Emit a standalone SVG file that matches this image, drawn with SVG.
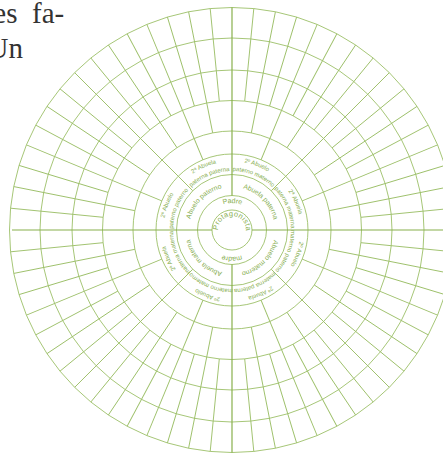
<svg xmlns="http://www.w3.org/2000/svg" xmlns:xlink="http://www.w3.org/1999/xlink" width="443" height="455" viewBox="0 0 443 455">
<style>
.c{fill:none;stroke:#9cbf68;stroke-width:0.9}
.r{stroke:#9cbf68;stroke-width:0.9}
.ax{stroke:#88b04c;stroke-width:1.2}
.t{font-family:"Liberation Sans",Arial,sans-serif;fill:#86ad4e;text-anchor:middle}
.t0{font-size:7.4px}
.t1{font-size:7px}
.t2{font-size:6.8px}
.t3{font-size:6px}
.book{font-family:"Liberation Serif","Times New Roman",serif;font-size:29px;fill:#333}
</style>
<defs>
<path id="p14" d="M246 230A14 14 0 1 1 218 230A14 14 0 1 1 246 230"/>
<path id="p27" d="M259 230A27 27 0 1 1 205 230A27 27 0 1 1 259 230"/>
<path id="p43" d="M275 230A43 43 0 1 1 189 230A43 43 0 1 1 275 230"/>
<path id="p59" d="M291 230A59 59 0 1 1 173 230A59 59 0 1 1 291 230"/>
<path id="p68" d="M300.5 230A68.5 68.5 0 1 1 163.5 230A68.5 68.5 0 1 1 300.5 230"/>
</defs>
<g id="book-text">
<text class="book" x="-6.7" y="22.5">es</text>
<text class="book" x="32" y="22.5">fa-</text>
<text class="book" x="-12.5" y="58">Un</text>
</g>
<g id="rings">
<circle class="c" cx="232" cy="230" r="20"/>
<circle class="c" cx="232" cy="230" r="34.5"/>
<circle class="c" cx="232" cy="230" r="55.5"/>
<circle class="c" cx="232" cy="230" r="76"/>
<circle class="c" cx="232" cy="230" r="99"/>
<circle class="c" cx="232" cy="230" r="129.5"/>
<circle class="c" cx="232" cy="230" r="160"/>
<circle class="c" cx="232" cy="230" r="192"/>
<circle class="c" cx="232" cy="230" r="222.5"/>
</g>
<g id="connectors">
<line class="ax" x1="12" y1="230" x2="212" y2="230"/>
<line class="ax" x1="252" y1="230" x2="454.5" y2="230"/>
<line class="ax" x1="232" y1="7.5" x2="232" y2="195.5"/>
<line class="ax" x1="232" y1="264.5" x2="232" y2="452.5"/>
<g id="gen3">
<line class="r" x1="287.5" y1="230" x2="454.5" y2="230" transform="rotate(45 232 230)"/>
<line class="r" x1="287.5" y1="230" x2="454.5" y2="230" transform="rotate(135 232 230)"/>
<line class="r" x1="287.5" y1="230" x2="454.5" y2="230" transform="rotate(225 232 230)"/>
<line class="r" x1="287.5" y1="230" x2="454.5" y2="230" transform="rotate(315 232 230)"/>
</g>
<g id="gen4">
<line class="r" x1="308" y1="230" x2="454.5" y2="230" transform="rotate(22.5 232 230)"/>
<line class="r" x1="308" y1="230" x2="454.5" y2="230" transform="rotate(67.5 232 230)"/>
<line class="r" x1="308" y1="230" x2="454.5" y2="230" transform="rotate(112.5 232 230)"/>
<line class="r" x1="308" y1="230" x2="454.5" y2="230" transform="rotate(157.5 232 230)"/>
<line class="r" x1="308" y1="230" x2="454.5" y2="230" transform="rotate(202.5 232 230)"/>
<line class="r" x1="308" y1="230" x2="454.5" y2="230" transform="rotate(247.5 232 230)"/>
<line class="r" x1="308" y1="230" x2="454.5" y2="230" transform="rotate(292.5 232 230)"/>
<line class="r" x1="308" y1="230" x2="454.5" y2="230" transform="rotate(337.5 232 230)"/>
</g>
<g id="gen5">
<line class="r" x1="331" y1="230" x2="454.5" y2="230" transform="rotate(11.25 232 230)"/>
<line class="r" x1="331" y1="230" x2="454.5" y2="230" transform="rotate(33.75 232 230)"/>
<line class="r" x1="331" y1="230" x2="454.5" y2="230" transform="rotate(56.25 232 230)"/>
<line class="r" x1="331" y1="230" x2="454.5" y2="230" transform="rotate(78.75 232 230)"/>
<line class="r" x1="331" y1="230" x2="454.5" y2="230" transform="rotate(101.25 232 230)"/>
<line class="r" x1="331" y1="230" x2="454.5" y2="230" transform="rotate(123.75 232 230)"/>
<line class="r" x1="331" y1="230" x2="454.5" y2="230" transform="rotate(146.25 232 230)"/>
<line class="r" x1="331" y1="230" x2="454.5" y2="230" transform="rotate(168.75 232 230)"/>
<line class="r" x1="331" y1="230" x2="454.5" y2="230" transform="rotate(191.25 232 230)"/>
<line class="r" x1="331" y1="230" x2="454.5" y2="230" transform="rotate(213.75 232 230)"/>
<line class="r" x1="331" y1="230" x2="454.5" y2="230" transform="rotate(236.25 232 230)"/>
<line class="r" x1="331" y1="230" x2="454.5" y2="230" transform="rotate(258.75 232 230)"/>
<line class="r" x1="331" y1="230" x2="454.5" y2="230" transform="rotate(281.25 232 230)"/>
<line class="r" x1="331" y1="230" x2="454.5" y2="230" transform="rotate(303.75 232 230)"/>
<line class="r" x1="331" y1="230" x2="454.5" y2="230" transform="rotate(326.25 232 230)"/>
<line class="r" x1="331" y1="230" x2="454.5" y2="230" transform="rotate(348.75 232 230)"/>
</g>
<g id="gen6">
<line class="r" x1="361.5" y1="230" x2="454.5" y2="230" transform="rotate(5.625 232 230)"/>
<line class="r" x1="361.5" y1="230" x2="454.5" y2="230" transform="rotate(16.875 232 230)"/>
<line class="r" x1="361.5" y1="230" x2="454.5" y2="230" transform="rotate(28.125 232 230)"/>
<line class="r" x1="361.5" y1="230" x2="454.5" y2="230" transform="rotate(39.375 232 230)"/>
<line class="r" x1="361.5" y1="230" x2="454.5" y2="230" transform="rotate(50.625 232 230)"/>
<line class="r" x1="361.5" y1="230" x2="454.5" y2="230" transform="rotate(61.875 232 230)"/>
<line class="r" x1="361.5" y1="230" x2="454.5" y2="230" transform="rotate(73.125 232 230)"/>
<line class="r" x1="361.5" y1="230" x2="454.5" y2="230" transform="rotate(84.375 232 230)"/>
<line class="r" x1="361.5" y1="230" x2="454.5" y2="230" transform="rotate(95.625 232 230)"/>
<line class="r" x1="361.5" y1="230" x2="454.5" y2="230" transform="rotate(106.875 232 230)"/>
<line class="r" x1="361.5" y1="230" x2="454.5" y2="230" transform="rotate(118.125 232 230)"/>
<line class="r" x1="361.5" y1="230" x2="454.5" y2="230" transform="rotate(129.375 232 230)"/>
<line class="r" x1="361.5" y1="230" x2="454.5" y2="230" transform="rotate(140.625 232 230)"/>
<line class="r" x1="361.5" y1="230" x2="454.5" y2="230" transform="rotate(151.875 232 230)"/>
<line class="r" x1="361.5" y1="230" x2="454.5" y2="230" transform="rotate(163.125 232 230)"/>
<line class="r" x1="361.5" y1="230" x2="454.5" y2="230" transform="rotate(174.375 232 230)"/>
<line class="r" x1="361.5" y1="230" x2="454.5" y2="230" transform="rotate(185.625 232 230)"/>
<line class="r" x1="361.5" y1="230" x2="454.5" y2="230" transform="rotate(196.875 232 230)"/>
<line class="r" x1="361.5" y1="230" x2="454.5" y2="230" transform="rotate(208.125 232 230)"/>
<line class="r" x1="361.5" y1="230" x2="454.5" y2="230" transform="rotate(219.375 232 230)"/>
<line class="r" x1="361.5" y1="230" x2="454.5" y2="230" transform="rotate(230.625 232 230)"/>
<line class="r" x1="361.5" y1="230" x2="454.5" y2="230" transform="rotate(241.875 232 230)"/>
<line class="r" x1="361.5" y1="230" x2="454.5" y2="230" transform="rotate(253.125 232 230)"/>
<line class="r" x1="361.5" y1="230" x2="454.5" y2="230" transform="rotate(264.375 232 230)"/>
<line class="r" x1="361.5" y1="230" x2="454.5" y2="230" transform="rotate(275.625 232 230)"/>
<line class="r" x1="361.5" y1="230" x2="454.5" y2="230" transform="rotate(286.875 232 230)"/>
<line class="r" x1="361.5" y1="230" x2="454.5" y2="230" transform="rotate(298.125 232 230)"/>
<line class="r" x1="361.5" y1="230" x2="454.5" y2="230" transform="rotate(309.375 232 230)"/>
<line class="r" x1="361.5" y1="230" x2="454.5" y2="230" transform="rotate(320.625 232 230)"/>
<line class="r" x1="361.5" y1="230" x2="454.5" y2="230" transform="rotate(331.875 232 230)"/>
<line class="r" x1="361.5" y1="230" x2="454.5" y2="230" transform="rotate(343.125 232 230)"/>
<line class="r" x1="361.5" y1="230" x2="454.5" y2="230" transform="rotate(354.375 232 230)"/>
</g>
</g>
<g id="protagonista"><text class="t t0" letter-spacing="0.3"><textPath xlink:href="#p14" startOffset="66">Protagonista</textPath></text></g>
<g id="padre"><text class="t t1"><textPath xlink:href="#p27" startOffset="127.2">Padre</textPath></text></g>
<g id="madre"><text class="t t1"><textPath xlink:href="#p27" startOffset="42.4">madre</textPath></text></g>
<g id="abuelo-paterno"><text class="t t2"><textPath xlink:href="#p43" startOffset="168.9">Abuelo paterno</textPath></text></g>
<g id="abuela-paterna"><text class="t t2"><textPath xlink:href="#p43" startOffset="236.4">Abuela paterna</textPath></text></g>
<g id="abuelo-materno"><text class="t t2"><textPath xlink:href="#p43" startOffset="33.8">Abuelo materno</textPath></text></g>
<g id="abuela-materna"><text class="t t2"><textPath xlink:href="#p43" startOffset="101.3">Abuela materna</textPath></text></g>
<g id="bis-pp-o"><text class="t t3"><textPath xlink:href="#p68" startOffset="239.7">2º Abuelo</textPath></text><text class="t t3"><textPath xlink:href="#p59" startOffset="207.5">paterno paterno</textPath></text></g>
<g id="bis-pp-a"><text class="t t3"><textPath xlink:href="#p68" startOffset="293.5">2ª Abuela</textPath></text><text class="t t3"><textPath xlink:href="#p59" startOffset="253.9">paterna paterna</textPath></text></g>
<g id="bis-pm-o"><text class="t t3"><textPath xlink:href="#p68" startOffset="347.3">2º Abuelo</textPath></text><text class="t t3"><textPath xlink:href="#p59" startOffset="300.2">paterno materno</textPath></text></g>
<g id="bis-pm-a"><text class="t t3"><textPath xlink:href="#p68" startOffset="401.1">2ª Abuela</textPath></text><text class="t t3"><textPath xlink:href="#p59" startOffset="346.5">paterna materna</textPath></text></g>
<g id="bis-mp-o"><text class="t t3"><textPath xlink:href="#p68" startOffset="24.5">2º Abuelo</textPath></text><text class="t t3"><textPath xlink:href="#p59" startOffset="22.2">materno paterno</textPath></text></g>
<g id="bis-mp-a"><text class="t t3"><textPath xlink:href="#p68" startOffset="78.3">2ª Abuela</textPath></text><text class="t t3"><textPath xlink:href="#p59" startOffset="68.5">materna paterna</textPath></text></g>
<g id="bis-mm-o"><text class="t t3"><textPath xlink:href="#p68" startOffset="132.1">2º Abuelo</textPath></text><text class="t t3"><textPath xlink:href="#p59" startOffset="114.8">materno materno</textPath></text></g>
<g id="bis-mm-a"><text class="t t3"><textPath xlink:href="#p68" startOffset="185.9">2ª Abuela</textPath></text><text class="t t3"><textPath xlink:href="#p59" startOffset="161.2">materna materna</textPath></text></g>
</svg>
